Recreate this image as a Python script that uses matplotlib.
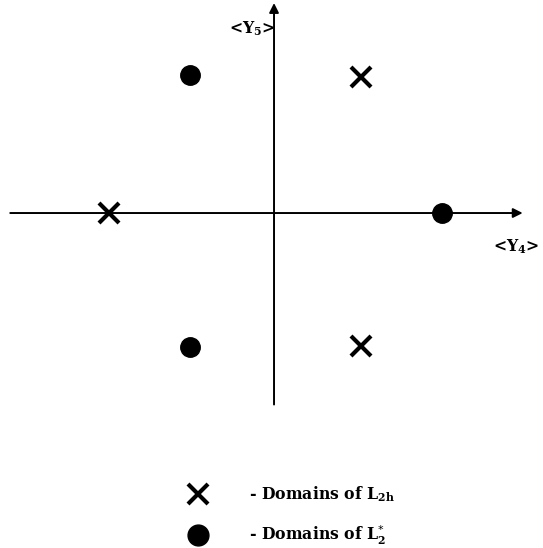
import numpy as np
import matplotlib.pyplot as plt

# Positions of the domains in the <Y4>, <Y5> plane
cross_x = [0.52, -0.98, 0.52]
cross_y = [0.81, 0.0, -0.79]
dot_x = [-0.50, 1.0, -0.50]
dot_y = [0.82, 0.0, -0.80]

legend_labels = [r'- Domains of L$_{\mathregular{2h}}$', r'- Domains of L$_{\mathregular{2}}^{*}$']

fig = plt.figure(figsize=(5.43, 5.48), dpi=100)
ax = fig.add_axes([0, 0, 1, 1])
ax.set_xlim(-1.631, 1.601)
ax.set_ylim(-1.994, 1.268)
ax.axis('off')

# Axes with arrows
arrow = dict(arrowstyle='-|>', color='black', lw=1.4, mutation_scale=14,
             shrinkA=0, shrinkB=0)
ax.annotate('', xy=(1.48, 0), xytext=(-1.57, 0), arrowprops=arrow)
ax.annotate('', xy=(0, 1.25), xytext=(0, -1.14), arrowprops=arrow)

# Domain markers
ax.plot(cross_x, cross_y, 'x', color='black', ms=14, mew=3, ls='none', zorder=3)
ax.plot(dot_x, dot_y, 'o', color='black', ms=14, ls='none', zorder=3)

font = dict(family='DejaVu Serif', fontsize=11.3, weight='bold', color='black')
ax.text(-0.13, 1.10, r'<Y$_{\mathregular{5}}$>', ha='center', va='center', **font)
ax.text(1.44, -0.20, r'<Y$_{\mathregular{4}}$>', ha='center', va='center', **font)

# Legend
leg_x = -0.45
ax.plot([leg_x], [-1.67], 'x', color='black', ms=14, mew=3)
ax.plot([leg_x], [-1.915], 'o', color='black', ms=15)
ax.text(-0.15, -1.675, legend_labels[0], ha='left', va='center', **font)
ax.text(-0.15, -1.92, legend_labels[1], ha='left', va='center', **font)

fig.savefig('out.png', dpi=100)
